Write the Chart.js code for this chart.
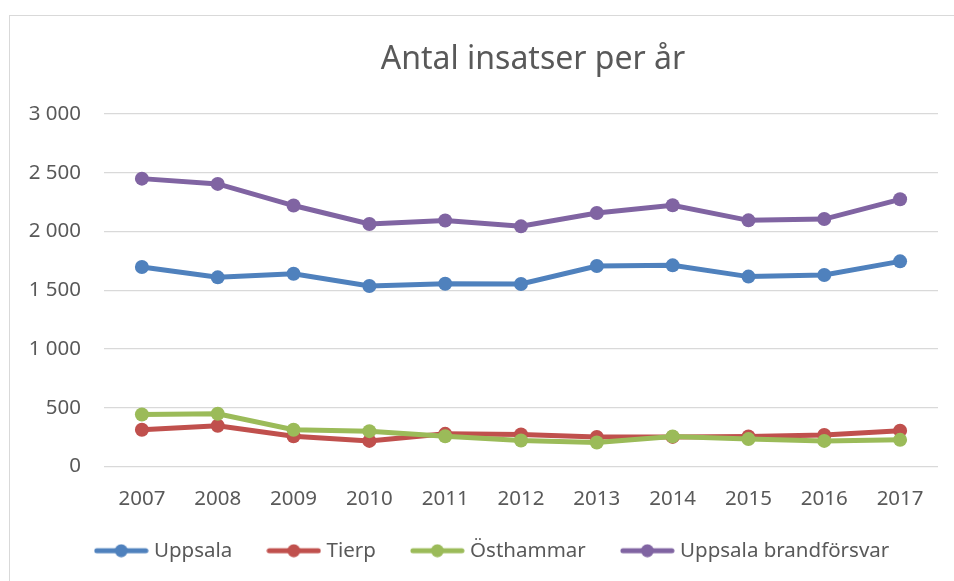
<!DOCTYPE html>
<html>
<head>
<meta charset="utf-8">
<script src="https://cdn.jsdelivr.net/npm/chart.js@4.4.1/dist/chart.umd.min.js"></script>
<style>
  html, body { margin: 0; padding: 0; background: #fff; overflow: hidden; }
  #wrap { position: relative; width: 954px; height: 581px; }
  #frame { position: absolute; left: 9px; top: 15px; width: 960px; height: 600px;
           border-left: 1.5px solid #d9d9d9; border-top: 1.5px solid #d9d9d9; }
  canvas { position: absolute; left: 0; top: 0; }
</style>
</head>
<body>
<div id="wrap">
  <div id="frame"></div>
  <canvas id="chart" width="954" height="581"></canvas>
</div>
<script>
// data
const years = ["2007", "2008", "2009", "2010", "2011", "2012", "2013", "2014", "2015", "2016", "2017"];
const uppsala = [1698, 1610, 1640, 1536, 1555, 1553, 1706, 1712, 1616, 1630, 1746];
const tierp = [313, 347, 258, 218, 278, 272, 252, 252, 255, 268, 305];
const osthammar = [443, 449, 313, 301, 258, 221, 204, 256, 233, 218, 227];
const brandforsvar = [2450, 2405, 2221, 2064, 2093, 2044, 2158, 2223, 2095, 2106, 2274];
const yTicks = [0, 500, 1000, 1500, 2000, 2500, 3000];

const textColor = "#595959";
const gridColor = "#d9d9d9";
const font = "'Noto Sans', sans-serif";

// legend marker: short line with a dot in the middle
function marker(color) {
  const c = document.createElement("canvas");
  c.width = 55; c.height = 14;
  const g = c.getContext("2d");
  g.strokeStyle = color; g.lineWidth = 5; g.lineCap = "round";
  g.beginPath(); g.moveTo(3, 7); g.lineTo(52, 7); g.stroke();
  g.fillStyle = color;
  g.beginPath(); g.arc(27.5, 7, 6.5, 0, Math.PI * 2); g.fill();
  return c;
}

function series(label, data, color, order) {
  return {
    label: label, data: data, order: order,
    borderColor: color, backgroundColor: color,
    borderWidth: 5, pointRadius: 7, pointBorderWidth: 0,
    pointBackgroundColor: color, pointHoverRadius: 7, tension: 0
  };
}

// nudge title and legend, as in the original
const nudge = {
  id: "nudge",
  afterLayout(chart) {
    const t = chart.titleBlock, l = chart.legend;
    t.left += 64; t.right += 64;
    l.left += 25; l.right += 25;
    l.top -= 10; l.bottom -= 10;
  }
};

new Chart(document.getElementById("chart"), {
  type: "line",
  data: {
    labels: years,
    datasets: [
      series("Uppsala", uppsala, "#4F81BD", 0),
      series("Tierp", tierp, "#C0504D", 2),
      series("Östhammar", osthammar, "#9BBB59", 1),
      series("Uppsala brandförsvar", brandforsvar, "#8064A2", 3)
    ]
  },
  options: {
    responsive: false,
    animation: false,
    devicePixelRatio: 1,
    layout: { padding: { left: 0, right: 16, top: 0, bottom: 0 } },
    plugins: {
      title: {
        display: true, text: "Antal insatser per år", color: textColor,
        font: { family: font, size: 32, weight: "normal" },
        padding: { top: 41, bottom: 34.6 }
      },
      legend: {
        position: "bottom",
        labels: {
          usePointStyle: true, pointStyleWidth: 45, padding: 39, color: textColor,
          font: { family: font, size: 20.5 },
          generateLabels(chart) {
            return chart.data.datasets.map((ds, i) => ({
              text: ds.label, pointStyle: marker(ds.borderColor),
              fillStyle: ds.borderColor, strokeStyle: ds.borderColor, lineWidth: 0,
              hidden: !chart.isDatasetVisible(i), datasetIndex: i, fontColor: textColor
            }));
          }
        }
      },
      tooltip: { enabled: false }
    },
    scales: {
      x: {
        offset: true,
        grid: { display: false, drawTicks: false },
        border: { display: false },
        ticks: { color: textColor, padding: 20, font: { family: font, size: 20.5 } },
        afterFit(scale) { scale.height = 45; }
      },
      y: {
        min: 0, max: 3000,
        afterBuildTicks(scale) { scale.ticks = yTicks.map(v => ({ value: v })); },
        grid: { color: gridColor, lineWidth: 1.3, drawTicks: false },
        border: { display: false },
        ticks: {
          color: textColor, padding: 23, font: { family: font, size: 20.5 },
          callback: v => String(v).replace(/\B(?=(\d{3})+$)/g, " ")
        },
        afterFit(scale) { scale.width = 104; }
      }
    }
  },
  plugins: [nudge]
});
</script>
</body>
</html>
